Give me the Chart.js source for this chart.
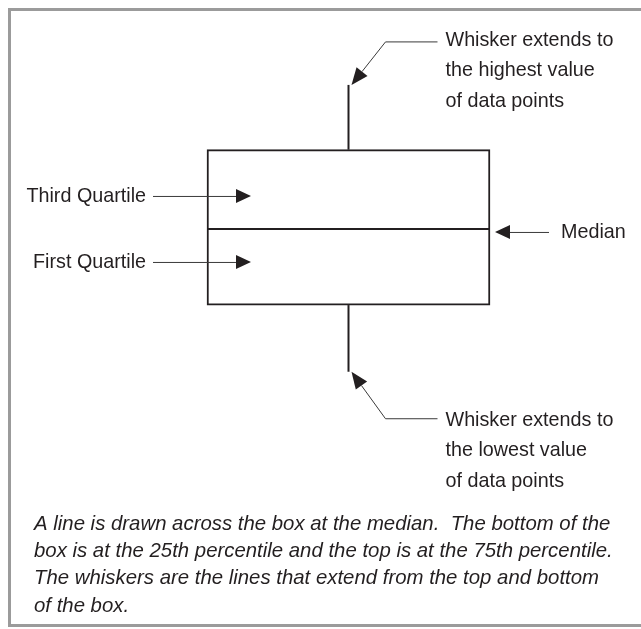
<!DOCTYPE html>
<html>
<head>
<meta charset="utf-8">
<script src="https://cdn.jsdelivr.net/npm/chart.js@4.4.1/dist/chart.umd.min.js"></script>
<style>
  html, body { margin: 0; padding: 0; background: #ffffff; }
  #wrap { position: relative; width: 641px; height: 629px; }
  canvas { display: block; }
</style>
</head>
<body>
<div id="wrap"><canvas id="c" width="641" height="629"></canvas></div>
<script>
// ---- data ----
const categories = ['Data'];
const whiskerLow = [40.9];
const firstQuartile = [51.5];
const medianValues = [63.6];
const thirdQuartile = [76.2];
const whiskerHigh = [86.5];

const topNote = ['Whisker extends to', 'the highest value', 'of data points'];
const bottomNote = ['Whisker extends to', 'the lowest value', 'of data points'];
const thirdLabel = 'Third Quartile';
const firstLabel = 'First Quartile';
const medianLabel = 'Median';
const caption = [
  'A line is drawn across the box at the median.  The bottom of the',
  'box is at the 25th percentile and the top is at the 75th percentile.',
  'The whiskers are the lines that extend from the top and bottom',
  'of the box.'
];

const INK = '#231f20';
const THIN = '#3a3a3a';
const FONT = '21px "Liberation Sans", Arial, sans-serif';
const IFONT = 'italic 21px "Liberation Sans", Arial, sans-serif';
const SQUEEZE = 0.94;
const ISQUEEZE = 0.97;

function text(ctx, s, x, y, align, squeeze) {
  ctx.save();
  ctx.translate(x, y);
  ctx.scale(squeeze, 1);
  ctx.textAlign = align;
  ctx.fillText(s, 0, 0);
  ctx.restore();
}
function arrowHead(ctx, fromX, fromY, tipX, tipY, len, half) {
  const a = Math.atan2(tipY - fromY, tipX - fromX);
  const bx = tipX - len * Math.cos(a), by = tipY - len * Math.sin(a);
  const px = -Math.sin(a) * half, py = Math.cos(a) * half;
  ctx.beginPath();
  ctx.moveTo(tipX, tipY);
  ctx.lineTo(bx + px, by + py);
  ctx.lineTo(bx - px, by - py);
  ctx.closePath();
  ctx.fillStyle = INK;
  ctx.fill();
  return [bx, by];
}
function line(ctx, pts, color, w) {
  ctx.beginPath();
  ctx.moveTo(pts[0][0], pts[0][1]);
  for (let i = 1; i < pts.length; i++) ctx.lineTo(pts[i][0], pts[i][1]);
  ctx.strokeStyle = color; ctx.lineWidth = w; ctx.stroke();
}

const framePlugin = {
  id: 'frame',
  beforeDraw(chart) {
    const ctx = chart.ctx;
    ctx.save();
    ctx.strokeStyle = '#9b9b9b';
    ctx.lineWidth = 3;
    ctx.strokeRect(9.5, 9.5, 700, 616);
    ctx.restore();
  }
};

const boxPlugin = {
  id: 'boxDecor',
  afterDatasetsDraw(chart) {
    const ctx = chart.ctx;
    const y = chart.scales.y;
    const meta = chart.getDatasetMeta(0);
    const bar = meta.data[0];
    const cx = bar.x;
    const half = bar.width / 2;
    const left = cx - half, right = cx + half;
    const yHigh = y.getPixelForValue(whiskerHigh[0]);
    const yLow = y.getPixelForValue(whiskerLow[0]);
    const yQ3 = y.getPixelForValue(thirdQuartile[0]);
    const yQ1 = y.getPixelForValue(firstQuartile[0]);
    const yMed = y.getPixelForValue(medianValues[0]);
    ctx.save();
    // whiskers
    line(ctx, [[cx, yQ3], [cx, yHigh]], INK, 2);
    line(ctx, [[cx, yQ1], [cx, yLow]], INK, 2);
    // median
    line(ctx, [[left, yMed], [right, yMed]], INK, 2);

    // top whisker annotation
    const tTip = [cx + 3, yHigh];
    const tElbow = [cx + 37, yHigh - 43];
    const hb = arrowHead(ctx, tElbow[0], tElbow[1], tTip[0], tTip[1], 17, 7);
    line(ctx, [[hb[0], hb[1]], tElbow, [cx + 89, tElbow[1]]], THIN, 1);
    // bottom whisker annotation
    const bTip = [cx + 3, yLow];
    const bElbow = [cx + 37, yLow + 47];
    const hb2 = arrowHead(ctx, bElbow[0], bElbow[1], bTip[0], bTip[1], 17, 7);
    line(ctx, [[hb2[0], hb2[1]], bElbow, [cx + 89, bElbow[1]]], THIN, 1);

    ctx.font = FONT;
    ctx.fillStyle = INK;
    ctx.textBaseline = 'middle';
    topNote.forEach((t, i) => text(ctx, t, cx + 97, tElbow[1] - 2 + i * 30.5, 'left', SQUEEZE));
    bottomNote.forEach((t, i) => text(ctx, t, cx + 97, bElbow[1] + 1 + i * 30.5, 'left', SQUEEZE));

    // quartile labels
    const yT = yMed - 33;
    const yF = yMed + 33;
    const tipX = left + 44;
    [[thirdLabel, yT], [firstLabel, yF]].forEach(([lab, yy]) => {
      ctx.fillStyle = INK;
      text(ctx, lab, left - 61, yy, 'right', SQUEEZE);
      const b = arrowHead(ctx, left - 60, yy, tipX, yy, 15, 7);
      line(ctx, [[left - 54, yy + 0.5], [b[0], yy + 0.5]], THIN, 1);
    });

    // median label
    const ym = yMed + 3;
    const mb = arrowHead(ctx, right + 60, ym, right + 5, ym, 15, 7);
    line(ctx, [[mb[0], ym + 0.5], [right + 59, ym + 0.5]], THIN, 1);
    ctx.fillStyle = INK;
    text(ctx, medianLabel, right + 71, ym, 'left', SQUEEZE);

    // caption
    ctx.font = IFONT;
    caption.forEach((t, i) => text(ctx, t, 34, 524 + i * 27.3, 'left', ISQUEEZE));
    ctx.restore();
  }
};

new Chart(document.getElementById('c'), {
  type: 'bar',
  data: {
    labels: categories,
    datasets: [{
      label: 'Box',
      data: firstQuartile.map((q, i) => [q, thirdQuartile[i]]),
      backgroundColor: '#ffffff',
      borderColor: INK,
      borderWidth: 2,
      borderSkipped: false,
      barThickness: 283
    }]
  },
  options: {
    responsive: false,
    animation: false,
    events: [],
    layout: { padding: { left: 56, right: 0, top: 0, bottom: 0 } },
    plugins: { legend: { display: false }, tooltip: { enabled: false }, title: { display: false } },
    scales: {
      x: { display: false },
      y: { display: false, min: 0, max: 100 }
    }
  },
  plugins: [framePlugin, boxPlugin]
});
</script>
</body>
</html>
